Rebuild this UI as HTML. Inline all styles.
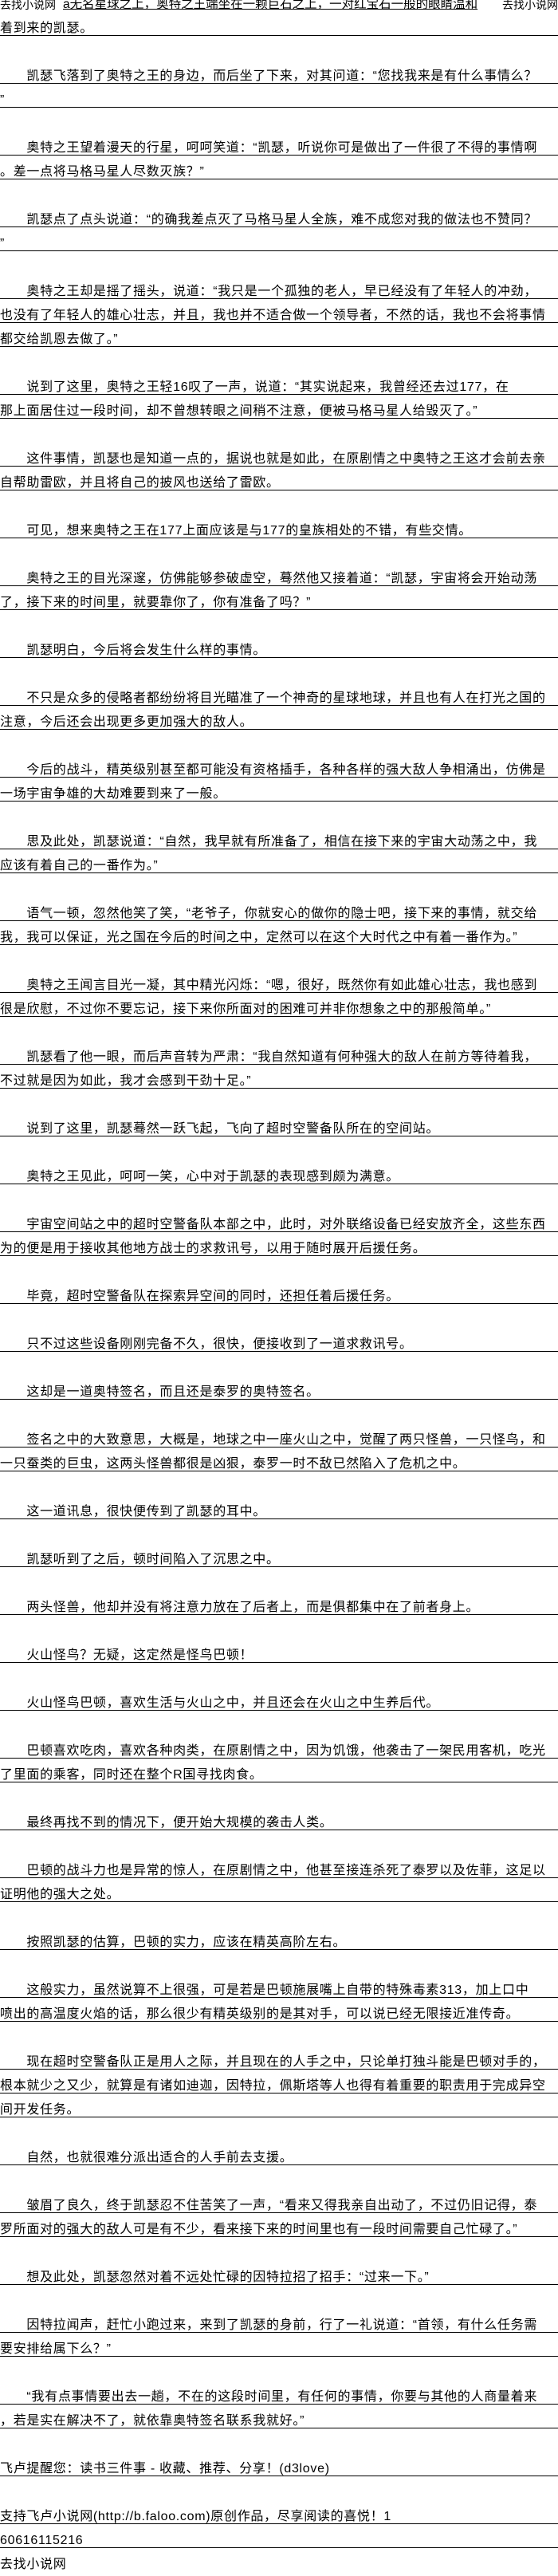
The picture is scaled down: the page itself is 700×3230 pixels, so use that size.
<!DOCTYPE html>
<html><head><meta charset="utf-8">
<style>
html,body{margin:0;padding:0;background:#fff;}
body{width:700px;height:3230px;overflow:hidden;position:relative;font-family:"Liberation Sans","Noto Sans CJK SC",sans-serif;color:#000;}
#w{position:absolute;left:0;top:-15px;width:700px;}
.l{height:30px;box-sizing:border-box;padding-top:13px;font-size:16px;line-height:16px;letter-spacing:0.7px;white-space:nowrap;overflow:hidden;}
.u{border-bottom:1px solid #000;}
.f{position:relative;}
.f span{position:absolute;top:13px;letter-spacing:0;}
</style></head><body>
<div id="w">
<div class="l f"><span style="left:0;font-size:14px">去找小说网</span><span style="left:79px;text-decoration:underline;font-size:15.5px">a无名星球之上，奥特之王端坐在一颗巨石之上，一对红宝石一般的眼睛温和</span><span style="left:630px;font-size:14px">去找小说网</span></div>
<div class="l u">着到来的凯瑟。</div>
<div class="l"></div>
<div class="l u">　　凯瑟飞落到了奥特之王的身边，而后坐了下来，对其问道：“您找我来是有什么事情么？</div>
<div class="l u">”</div>
<div class="l"></div>
<div class="l u">　　奥特之王望着漫天的行星，呵呵笑道：“凯瑟，听说你可是做出了一件很了不得的事情啊</div>
<div class="l u">。差一点将马格马星人尽数灭族？”</div>
<div class="l"></div>
<div class="l u">　　凯瑟点了点头说道：“的确我差点灭了马格马星人全族，难不成您对我的做法也不赞同？</div>
<div class="l u">”</div>
<div class="l"></div>
<div class="l u">　　奥特之王却是摇了摇头，说道：“我只是一个孤独的老人，早已经没有了年轻人的冲劲，</div>
<div class="l u">也没有了年轻人的雄心壮志，并且，我也并不适合做一个领导者，不然的话，我也不会将事情</div>
<div class="l u">都交给凯恩去做了。”</div>
<div class="l"></div>
<div class="l u">　　说到了这里，奥特之王轻16叹了一声，说道：“其实说起来，我曾经还去过177，在</div>
<div class="l u">那上面居住过一段时间，却不曾想转眼之间稍不注意，便被马格马星人给毁灭了。”</div>
<div class="l"></div>
<div class="l u">　　这件事情，凯瑟也是知道一点的，据说也就是如此，在原剧情之中奥特之王这才会前去亲</div>
<div class="l u">自帮助雷欧，并且将自己的披风也送给了雷欧。</div>
<div class="l"></div>
<div class="l u">　　可见，想来奥特之王在177上面应该是与177的皇族相处的不错，有些交情。</div>
<div class="l"></div>
<div class="l u">　　奥特之王的目光深邃，仿佛能够参破虚空，蓦然他又接着道：“凯瑟，宇宙将会开始动荡</div>
<div class="l u">了，接下来的时间里，就要靠你了，你有准备了吗？”</div>
<div class="l"></div>
<div class="l u">　　凯瑟明白，今后将会发生什么样的事情。</div>
<div class="l"></div>
<div class="l u">　　不只是众多的侵略者都纷纷将目光瞄准了一个神奇的星球地球，并且也有人在打光之国的</div>
<div class="l u">注意，今后还会出现更多更加强大的敌人。</div>
<div class="l"></div>
<div class="l u">　　今后的战斗，精英级别甚至都可能没有资格插手，各种各样的强大敌人争相涌出，仿佛是</div>
<div class="l u">一场宇宙争雄的大劫难要到来了一般。</div>
<div class="l"></div>
<div class="l u">　　思及此处，凯瑟说道：“自然，我早就有所准备了，相信在接下来的宇宙大动荡之中，我</div>
<div class="l u">应该有着自己的一番作为。”</div>
<div class="l"></div>
<div class="l u">　　语气一顿，忽然他笑了笑，“老爷子，你就安心的做你的隐士吧，接下来的事情，就交给</div>
<div class="l u">我，我可以保证，光之国在今后的时间之中，定然可以在这个大时代之中有着一番作为。”</div>
<div class="l"></div>
<div class="l u">　　奥特之王闻言目光一凝，其中精光闪烁：“嗯，很好，既然你有如此雄心壮志，我也感到</div>
<div class="l u">很是欣慰，不过你不要忘记，接下来你所面对的困难可并非你想象之中的那般简单。”</div>
<div class="l"></div>
<div class="l u">　　凯瑟看了他一眼，而后声音转为严肃：“我自然知道有何种强大的敌人在前方等待着我，</div>
<div class="l u">不过就是因为如此，我才会感到干劲十足。”</div>
<div class="l"></div>
<div class="l u">　　说到了这里，凯瑟蓦然一跃飞起，飞向了超时空警备队所在的空间站。</div>
<div class="l"></div>
<div class="l u">　　奥特之王见此，呵呵一笑，心中对于凯瑟的表现感到颇为满意。</div>
<div class="l"></div>
<div class="l u">　　宇宙空间站之中的超时空警备队本部之中，此时，对外联络设备已经安放齐全，这些东西</div>
<div class="l u">为的便是用于接收其他地方战士的求救讯号，以用于随时展开后援任务。</div>
<div class="l"></div>
<div class="l u">　　毕竟，超时空警备队在探索异空间的同时，还担任着后援任务。</div>
<div class="l"></div>
<div class="l u">　　只不过这些设备刚刚完备不久，很快，便接收到了一道求救讯号。</div>
<div class="l"></div>
<div class="l u">　　这却是一道奥特签名，而且还是泰罗的奥特签名。</div>
<div class="l"></div>
<div class="l u">　　签名之中的大致意思，大概是，地球之中一座火山之中，觉醒了两只怪兽，一只怪鸟，和</div>
<div class="l u">一只蚕类的巨虫，这两头怪兽都很是凶狠，泰罗一时不敌已然陷入了危机之中。</div>
<div class="l"></div>
<div class="l u">　　这一道讯息，很快便传到了凯瑟的耳中。</div>
<div class="l"></div>
<div class="l u">　　凯瑟听到了之后，顿时间陷入了沉思之中。</div>
<div class="l"></div>
<div class="l u">　　两头怪兽，他却并没有将注意力放在了后者上，而是俱都集中在了前者身上。</div>
<div class="l"></div>
<div class="l u">　　火山怪鸟？无疑，这定然是怪鸟巴顿！</div>
<div class="l"></div>
<div class="l u">　　火山怪鸟巴顿，喜欢生活与火山之中，并且还会在火山之中生养后代。</div>
<div class="l"></div>
<div class="l u">　　巴顿喜欢吃肉，喜欢各种肉类，在原剧情之中，因为饥饿，他袭击了一架民用客机，吃光</div>
<div class="l u">了里面的乘客，同时还在整个R国寻找肉食。</div>
<div class="l"></div>
<div class="l u">　　最终再找不到的情况下，便开始大规模的袭击人类。</div>
<div class="l"></div>
<div class="l u">　　巴顿的战斗力也是异常的惊人，在原剧情之中，他甚至接连杀死了泰罗以及佐菲，这足以</div>
<div class="l u">证明他的强大之处。</div>
<div class="l"></div>
<div class="l u">　　按照凯瑟的估算，巴顿的实力，应该在精英高阶左右。</div>
<div class="l"></div>
<div class="l u">　　这般实力，虽然说算不上很强，可是若是巴顿施展嘴上自带的特殊毒素313，加上口中</div>
<div class="l u">喷出的高温度火焰的话，那么很少有精英级别的是其对手，可以说已经无限接近准传奇。</div>
<div class="l"></div>
<div class="l u">　　现在超时空警备队正是用人之际，并且现在的人手之中，只论单打独斗能是巴顿对手的，</div>
<div class="l u">根本就少之又少，就算是有诸如迪迦，因特拉，佩斯塔等人也得有着重要的职责用于完成异空</div>
<div class="l u">间开发任务。</div>
<div class="l"></div>
<div class="l u">　　自然，也就很难分派出适合的人手前去支援。</div>
<div class="l"></div>
<div class="l u">　　皱眉了良久，终于凯瑟忍不住苦笑了一声，“看来又得我亲自出动了，不过仍旧记得，泰</div>
<div class="l u">罗所面对的强大的敌人可是有不少，看来接下来的时间里也有一段时间需要自己忙碌了。”</div>
<div class="l"></div>
<div class="l u">　　想及此处，凯瑟忽然对着不远处忙碌的因特拉招了招手：“过来一下。”</div>
<div class="l"></div>
<div class="l u">　　因特拉闻声，赶忙小跑过来，来到了凯瑟的身前，行了一礼说道：“首领，有什么任务需</div>
<div class="l u">要安排给属下么？”</div>
<div class="l"></div>
<div class="l u">　　“我有点事情要出去一趟，不在的这段时间里，有任何的事情，你要与其他的人商量着来</div>
<div class="l u">，若是实在解决不了，就依靠奥特签名联系我就好。”</div>
<div class="l"></div>
<div class="l u">飞卢提醒您：读书三件事 - 收藏、推荐、分享！(d3love)</div>
<div class="l"></div>
<div class="l u">支持飞卢小说网(http://b.faloo.com)原创作品，尽享阅读的喜悦！1</div>
<div class="l u">60616115216</div>
<div class="l">去找小说网</div>
</div>
</body></html>
